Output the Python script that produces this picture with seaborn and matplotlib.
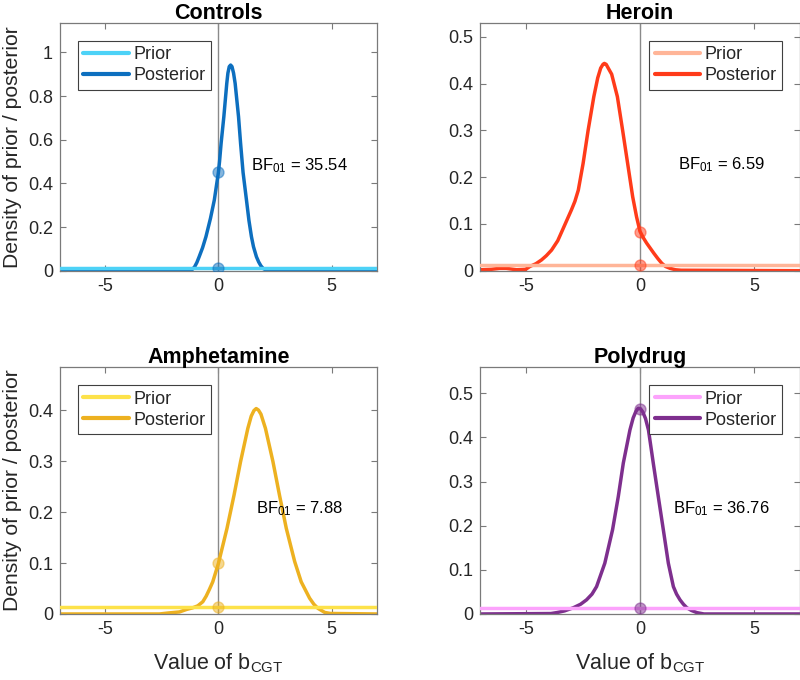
import matplotlib
matplotlib.use("Agg")
import matplotlib.pyplot as plt
import seaborn as sns
from matplotlib.ticker import FormatStrFormatter, MultipleLocator

# groups and annotations
GROUPS = ["Controls", "Heroin", "Amphetamine", "Polydrug"]
BF01 = [35.54, 6.59, 7.88, 36.76]
PRIOR_AT_ZERO = [0.0127, 0.0127, 0.0127, 0.0127]
POSTERIOR_AT_ZERO = [0.45, 0.083, 0.10, 0.465]
PRIOR_X = [-7, 7]

# posterior densities
controls_x = [-7, -1.25, -1.15, -1.05, -0.95, -0.85, -0.7, -0.55, -0.35, -0.18, 0, 0.05,
              0.12, 0.24, 0.37, 0.42, 0.48, 0.54, 0.60, 0.67, 0.74, 0.89, 0.98, 1.09,
              1.24, 1.35, 1.46, 1.55, 1.68, 1.78, 1.88, 1.98, 2.1, 2.3, 7]
controls_y = [0, 0.001, 0.006, 0.018, 0.038, 0.064, 0.105, 0.156, 0.24, 0.324, 0.45, 0.50,
              0.584, 0.705, 0.858, 0.905, 0.935, 0.942, 0.935, 0.905, 0.858, 0.705, 0.584,
              0.45, 0.324, 0.23, 0.156, 0.11, 0.064, 0.04, 0.022, 0.01, 0.003, 0, 0]

heroin_x = [-7, -6.5, -6.14, -5.85, -5.4, -5.0, -4.82, -4.55, -4.31, -4.1, -3.87, -3.6,
            -3.39, -3.0, -2.85, -2.70, -2.49, -2.27, -2.02, -1.85, -1.72, -1.62, -1.56,
            -1.48, -1.39, -1.24, -0.99, -0.76, -0.54, -0.32, -0.15, 0, 0.15, 0.29, 0.45,
            0.61, 0.78, 0.95, 1.12, 1.32, 1.55, 1.8, 7]
heroin_y = [0.002, 0.003, 0.005, 0.005, 0.002, 0.003, 0.009, 0.015, 0.023, 0.032, 0.044,
            0.064, 0.087, 0.130, 0.148, 0.172, 0.229, 0.30, 0.372, 0.412, 0.433, 0.441,
            0.443, 0.441, 0.433, 0.42, 0.372, 0.30, 0.229, 0.158, 0.115, 0.084, 0.07,
            0.059, 0.048, 0.037, 0.026, 0.016, 0.009, 0.005, 0.002, 0.001, 0]

amph_x = [-7, -2.6, -2.2, -1.72, -1.4, -1.14, -0.91, -0.69, -0.54, -0.40, -0.25, 0, 0.38,
          0.69, 0.98, 1.30, 1.45, 1.57, 1.67, 1.77, 1.88, 2.08, 2.41, 2.70, 3.0, 3.37,
          3.66, 4.03, 4.22, 4.40, 4.7, 4.95, 7]
amph_y = [0, 0, 0.002, 0.004, 0.009, 0.012, 0.016, 0.024, 0.035, 0.048, 0.063, 0.099,
          0.168, 0.233, 0.299, 0.364, 0.388, 0.399, 0.403, 0.400, 0.392, 0.364, 0.299,
          0.233, 0.168, 0.103, 0.063, 0.031, 0.019, 0.011, 0.003, 0.001, 0]

poly_x = [-7, -3.9, -3.65, -3.3, -2.92, -2.6, -2.34, -2.1, -1.90, -1.54, -1.20, -0.95,
          -0.73, -0.44, -0.3, -0.18, -0.08, 0.02, 0.12, 0.24, 0.37, 0.58, 0.80, 1.02,
          1.24, 1.46, 1.6, 1.75, 1.9, 2.05, 2.25, 2.49, 2.8, 7]
poly_y = [0, 0.001, 0.003, 0.007, 0.014, 0.022, 0.032, 0.045, 0.062, 0.115, 0.191, 0.266,
          0.342, 0.417, 0.444, 0.459, 0.466, 0.465, 0.458, 0.443, 0.417, 0.342, 0.266,
          0.191, 0.115, 0.062, 0.045, 0.032, 0.022, 0.014, 0.008, 0.003, 0, 0]

POSTERIORS = [(controls_x, controls_y), (heroin_x, heroin_y),
              (amph_x, amph_y), (poly_x, poly_y)]

PRIOR_COLORS = ["#4dd2f7", "#ffb598", "#fde24a", "#fca3fc"]
POST_COLORS = ["#0d6fbf", "#ff3b1a", "#edb120", "#7e2f8e"]

# layout per panel
AX_RECTS = [
    (0.075, 0.6019, 0.396, 0.3647),
    (0.600, 0.6019, 0.400, 0.3647),
    (0.075, 0.0971, 0.396, 0.3628),
    (0.600, 0.0971, 0.400, 0.3628),
]
Y_TOPS = [1.136, 0.53, 0.484, 0.559]
Y_STEPS = [0.2, 0.1, 0.1, 0.1]
LEGEND_LOCS = ["upper left", "upper right", "upper left", "upper right"]
BF_POS = [(1.43, 0.48), (1.65, 0.226), (1.67, 0.206), (1.46, 0.238)]

sns.set_style("ticks")
plt.rcParams["font.family"] = ["Liberation Sans", "DejaVu Sans"]
plt.rcParams["mathtext.fontset"] = "custom"
plt.rcParams["mathtext.rm"] = "Liberation Sans"
plt.rcParams["mathtext.it"] = "Liberation Sans:italic"
plt.rcParams["axes.unicode_minus"] = False

TXT = "#262626"
FRAME = "#7a7a7a"

fig = plt.figure(figsize=(8, 6.8), dpi=100)

for i, group in enumerate(GROUPS):
    ax = fig.add_axes(AX_RECTS[i])
    px, py = POSTERIORS[i]
    prior = PRIOR_AT_ZERO[i]

    ax.axvline(0, color="#8a8a8a", lw=1.0, zorder=1)
    sns.lineplot(x=PRIOR_X, y=[prior, prior], ax=ax, color=PRIOR_COLORS[i],
                 lw=2.5, label="Prior", zorder=3)
    sns.lineplot(x=px, y=py, ax=ax, color=POST_COLORS[i], lw=2.5,
                 label="Posterior", zorder=2, solid_joinstyle="round")
    ax.scatter([0, 0], [prior, POSTERIOR_AT_ZERO[i]], s=62, color=POST_COLORS[i],
               alpha=0.5, edgecolor=POST_COLORS[i], linewidth=1.0, zorder=4)

    bx, by = BF_POS[i]
    ax.text(bx, by, "BF$_{01}$ = %.2f" % BF01[i], fontsize=12, color="black",
            va="center", ha="left")

    ax.set_xlim(-7, 7)
    ax.set_ylim(0, Y_TOPS[i])
    ax.set_xticks([-5, 0, 5])
    ax.yaxis.set_major_locator(MultipleLocator(Y_STEPS[i]))
    ax.yaxis.set_major_formatter(FormatStrFormatter("%g"))
    ax.tick_params(direction="in", length=4, width=0.8, top=True, right=True,
                   labelsize=13, colors=FRAME, labelcolor=TXT, pad=5)
    for sp in ax.spines.values():
        sp.set_color(FRAME)
        sp.set_linewidth(0.9)

    ax.set_title(group, fontsize=15.5, fontweight="bold", color="black", pad=3)
    if i % 2 == 0:
        ax.set_ylabel("Density of prior / posterior", fontsize=15.2, color=TXT,
                      labelpad=4)
    else:
        ax.set_ylabel("")
    if i >= 2:
        ax.set_xlabel("Value of b$_{\\mathrm{CGT}}$", fontsize=15.5, color=TXT,
                      labelpad=10)
    else:
        ax.set_xlabel("")

    leg = ax.legend(loc=LEGEND_LOCS[i], fontsize=13, frameon=True, fancybox=False,
                    framealpha=1, edgecolor="#404040", handlelength=2.5,
                    borderaxespad=1.0, borderpad=0.3, labelspacing=0.22,
                    handletextpad=0.25)
    leg.get_frame().set_linewidth(0.8)
    for h in leg.get_lines():
        h.set_linewidth(3.0)

fig.savefig("out.png", dpi=100)
